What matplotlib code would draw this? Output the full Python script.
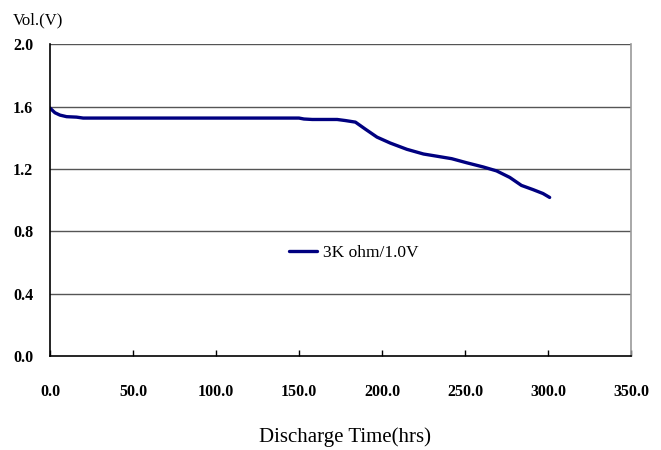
import numpy as np
import matplotlib
matplotlib.use("Agg")
import matplotlib.pyplot as plt

# discharge curve
hours = [0, 3, 6, 10, 16, 20, 50, 100, 150, 153, 158, 173, 178, 184, 190,
         197, 205, 215, 225, 233, 242, 251, 261, 269, 277, 284, 291, 297, 301]
volts = [1.59, 1.56, 1.545, 1.535, 1.532, 1.526, 1.526, 1.526, 1.526, 1.52,
         1.517, 1.517, 1.51, 1.50, 1.455, 1.404, 1.366, 1.326, 1.296, 1.282,
         1.266, 1.24, 1.213, 1.188, 1.146, 1.095, 1.068, 1.043, 1.018]
series_label = "3K ohm/1.0V"
xticks = [0, 50, 100, 150, 200, 250, 300, 350]
yticks = [0.0, 0.4, 0.8, 1.2, 1.6, 2.0]

plt.rcParams['font.family'] = ['Liberation Serif', 'DejaVu Serif']

fig = plt.figure(figsize=(6.61, 4.5), dpi=100)
ax = fig.add_axes([0.0756, 0.2078, 0.879, 0.6944])

ax.plot(hours, volts, color='#000080', lw=2.4, label=series_label,
        solid_capstyle='round')

ax.set_xlim(0, 350)
ax.set_ylim(0, 2.0)
ax.set_xticks(xticks)
ax.set_xticklabels(["%.1f" % v for v in xticks])
ax.set_yticks(yticks)
ax.set_yticklabels(["%.1f" % v for v in yticks])

for y in yticks[1:]:
    ax.axhline(y, color='#555555', lw=1.0, zorder=1)

ax.spines['top'].set_visible(False)
ax.spines['right'].set_color('#999999')
ax.spines['right'].set_linewidth(1.2)
ax.spines['left'].set_color('black')
ax.spines['bottom'].set_color('black')
ax.spines['left'].set_linewidth(1.2)
ax.spines['bottom'].set_linewidth(1.2)

ax.tick_params(axis='x', direction='in', length=4, width=1, pad=20,
               labelsize=11.5)
ax.tick_params(axis='y', length=0, pad=12, labelsize=11.5)
for lab in ax.get_xticklabels() + ax.get_yticklabels():
    lab.set_fontweight('bold')

leg = ax.legend(loc='center left', bbox_to_anchor=(0.385, 0.33), frameon=False,
                fontsize=12.5, handlelength=1.6, handletextpad=0.35)

fig.text(0.02, 0.955, "Vol.(V)", fontsize=12, ha='left', va='center')
fig.text(0.522, 0.028, "Discharge Time(hrs)", fontsize=15, ha='center',
         va='center')

fig.savefig("out.png", dpi=100)
